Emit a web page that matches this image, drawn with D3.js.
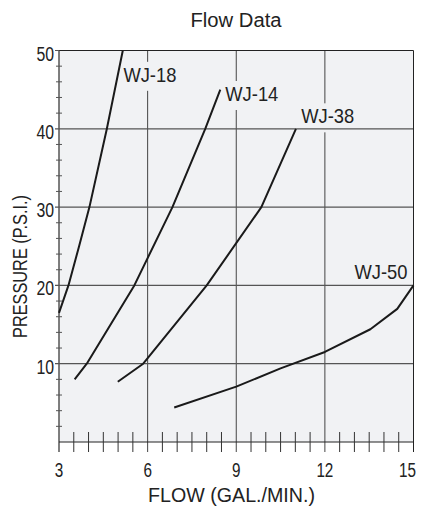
<!DOCTYPE html>
<html>
<head>
<meta charset="utf-8">
<script src="https://cdn.jsdelivr.net/npm/d3@7"></script>
<style>
  body { margin: 0; background: #fff; }
  text { font-family: "Liberation Sans", Arial, sans-serif; fill: #222; }
</style>
</head>
<body>
<script>
// values
var flowTicks = [3, 6, 9, 12, 15];
var pressureTicks = [10, 20, 30, 40, 50];
var seriesNames = ["WJ-18", "WJ-14", "WJ-38", "WJ-50"];
var wj18 = [[3, 16.5], [3.32, 20], [3.68, 25], [4.03, 30], [4.62, 40], [5.16, 50]];
var wj14 = [[3.53, 8], [3.94, 10], [5.55, 20], [6.84, 30], [7.95, 40], [8.46, 45]];
var wj38 = [[4.99, 7.7], [5.85, 10], [8.0, 20], [9.85, 30], [11.02, 40]];
var wj50 = [[6.9, 4.4], [9, 7.07], [10.5, 9.4], [12, 11.5], [13.54, 14.4], [14.45, 17], [15, 20]];
// where each name sits (flow, pressure of text baseline start)
var labelSpots = [[5.18, 46.0], [8.63, 43.55], [11.2, 40.7], [13.0, 20.78]];

function FlowDraw()
{
    var width = 422;
    var height = 508;
    var margin = {top: 50.5, right: 8.5, bottom: 66, left: 59};

    var svg = d3.select("body").append("svg")
            .attr("width", width)
            .attr("height", height);

    var x = d3.scaleLinear().domain([3, 15]).range([margin.left, width - margin.right]);
    var y = d3.scaleLinear().domain([0, 50]).range([height - margin.bottom, margin.top]);

    svg.append("rect")
       .attr("x", x(3)).attr("y", y(50))
       .attr("width", x(15) - x(3)).attr("height", y(0) - y(50))
       .attr("fill", "#f1f2f4");

    // vertical grid (runs past the axis like a long tick)
    svg.selectAll(".vgrid")
       .data(flowTicks.slice(1, -1))
       .enter().append("line")
       .attr("x1", d => x(d)).attr("x2", d => x(d))
       .attr("y1", y(50)).attr("y2", y(0) + 10)
       .attr("stroke", "#444").attr("stroke-width", 1);

    // label masks break the vertical grid
    var labels = seriesNames.map((n, i) => ({name: n, fx: labelSpots[i][0], fy: labelSpots[i][1]}));

    var lab = svg.selectAll(".lab")
       .data(labels)
       .enter().append("g");

    lab.append("rect")
       .attr("fill", "#f1f2f4");

    // horizontal grid
    svg.selectAll(".hgrid")
       .data(pressureTicks.slice(0, -1))
       .enter().append("line")
       .attr("x1", x(3) - 4).attr("x2", x(15))
       .attr("y1", d => y(d)).attr("y2", d => y(d))
       .attr("stroke", "#555").attr("stroke-width", 1.2);

    // frame: top, right, left axis, bottom axis
    svg.append("line").attr("x1", x(3)).attr("x2", x(15)).attr("y1", y(50)).attr("y2", y(50))
       .attr("stroke", "#222").attr("stroke-width", 1);
    svg.append("line").attr("x1", x(15)).attr("x2", x(15)).attr("y1", y(50)).attr("y2", y(0) + 10)
       .attr("stroke", "#222").attr("stroke-width", 1);
    svg.append("line").attr("x1", x(3)).attr("x2", x(3)).attr("y1", y(50)).attr("y2", y(0) + 10)
       .attr("stroke", "#555").attr("stroke-width", 1.5);
    svg.append("line").attr("x1", x(3)).attr("x2", x(15)).attr("y1", y(0)).attr("y2", y(0))
       .attr("stroke", "#222").attr("stroke-width", 1.2);

    // minor ticks
    svg.selectAll(".xminor")
       .data(d3.range(3.5, 15, 0.5).filter(v => v % 3 != 0))
       .enter().append("line")
       .attr("x1", d => x(d)).attr("x2", d => x(d))
       .attr("y1", y(0) - 10).attr("y2", y(0) + 10)
       .attr("stroke", "#333").attr("stroke-width", 1);

    svg.selectAll(".yminor")
       .data(d3.range(2, 50, 2).filter(v => v % 10 != 0))
       .enter().append("line")
       .attr("x1", x(3) - 3).attr("x2", x(3) + 3)
       .attr("y1", d => y(d)).attr("y2", d => y(d))
       .attr("stroke", "#555").attr("stroke-width", 1);

    svg.append("line").attr("x1", x(3) - 4).attr("x2", x(3)).attr("y1", y(50)).attr("y2", y(50))
       .attr("stroke", "#555").attr("stroke-width", 1);

    // curves
    var line = d3.line().x(d => x(d[0])).y(d => y(d[1]));
    svg.selectAll(".curve")
       .data([wj18, wj14, wj38, wj50])
       .enter().append("path")
       .attr("d", line)
       .attr("fill", "none")
       .attr("stroke", "#1a1a1a")
       .attr("stroke-width", 2)
       .attr("stroke-linejoin", "round");

    // curve names - the original face is a condensed one, so squeeze to its width
    lab.append("text")
       .attr("x", d => x(d.fx))
       .attr("y", d => y(d.fy))
       .attr("font-size", 21)
       .attr("textLength", 53)
       .attr("lengthAdjust", "spacingAndGlyphs")
       .text(d => d.name);

    lab.each(function()
    {
        var b = d3.select(this).select("text").node().getBBox();
        d3.select(this).select("rect")
          .attr("x", b.x - 2).attr("y", b.y - 1)
          .attr("width", b.width + 4).attr("height", b.height + 6);
    });

    // tick labels (last one pulled in so it stays on the page)
    svg.selectAll(".xlab")
       .data(flowTicks)
       .enter().append("text")
       .attr("x", d => d == 15 ? x(d) - 6 : x(d))
       .attr("y", 477)
       .attr("text-anchor", "middle")
       .attr("font-size", 20)
       .attr("textLength", d => String(d).length * 8.5)
       .attr("lengthAdjust", "spacingAndGlyphs")
       .text(d => d);

    svg.selectAll(".ylab")
       .data(pressureTicks)
       .enter().append("text")
       .attr("x", 54)
       .attr("y", d => y(d) + 10)
       .attr("text-anchor", "end")
       .attr("font-size", 20.5)
       .attr("textLength", d => String(d).length * 8.8)
       .attr("lengthAdjust", "spacingAndGlyphs")
       .text(d => d);

    svg.append("text")
       .attr("x", 236).attr("y", 27)
       .attr("text-anchor", "middle")
       .attr("font-size", 20)
       .attr("textLength", 91)
       .attr("lengthAdjust", "spacingAndGlyphs")
       .text("Flow Data");

    svg.append("text")
       .attr("x", 231.5).attr("y", 502)
       .attr("text-anchor", "middle")
       .attr("font-size", 20.5)
       .attr("textLength", 167)
       .attr("lengthAdjust", "spacingAndGlyphs")
       .text("FLOW (GAL./MIN.)");

    svg.append("text")
       .attr("transform", "translate(26.5,266.5) rotate(-90)")
       .attr("text-anchor", "middle")
       .attr("font-size", 20.5)
       .attr("textLength", 143)
       .attr("lengthAdjust", "spacingAndGlyphs")
       .text("PRESSURE (P.S.I.)");
}
window.onload = FlowDraw;
</script>
</body>
</html>
